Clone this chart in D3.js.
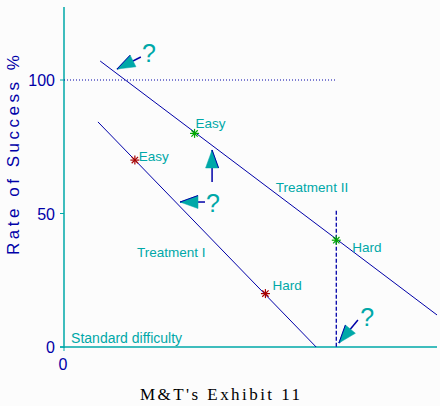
<!DOCTYPE html>
<html>
<head>
<meta charset="utf-8">
<script src="https://cdn.jsdelivr.net/npm/d3@7"></script>
<style>
  body { margin: 0; background: #fcfcfc; }
  svg { display: block; }
</style>
</head>
<body>
<div id="wrapper"></div>
<script>
// data (x is a unitless difficulty scale, y is rate of success %)
const yTicks = [0, 50, 100]
const xTicks = [0]
const treatmentI = [[9.1, 84.3], [67.6, 0]]
const treatmentII = [[9.7, 107.1], [100, 12]]
const pointsI = [{ label: "Easy", x: 19, y: 70 }, { label: "Hard", x: 54, y: 20 }]
const pointsII = [{ label: "Easy", x: 35, y: 80 }, { label: "Hard", x: 73, y: 40 }]
const hundredLine = [[0, 100], [73, 100]]
const hardDrop = [[73, 51], [73, 0]]
const notes = [
  { text: "Treatment II", x: 56.8, y: 58.1 },
  { text: "Treatment I", x: 19.6, y: 33.7 },
  { text: "Standard difficulty", x: 1.9, y: 1.5 },
]
// arrows: tail -> tip
const arrows = [
  { tail: [20.6, 108.6], tip: [14.2, 104.1] },
  { tail: [39.7, 61.8], tip: [39.7, 73.8] },
  { tail: [37.8, 54.3], tip: [31.1, 54.3] },
  { tail: [78.8, 10.1], tip: [73.7, 1.5] },
]
const questions = [[20.9, 106.7], [38.1, 50.6], [79.4, 7.9]]

// dimensions
const width = 440
const height = 406
const colors = {
  teal: "#00a8a8",
  blue: "#0000a8",
  red: "#a80000",
  green: "#00a800",
}

const svg = d3.select("#wrapper")
  .append("svg")
    .attr("width", width)
    .attr("height", height)

const xScale = d3.scaleLinear().domain([0, 100]).range([64, 437])
const yScale = d3.scaleLinear().domain([0, 100]).range([347, 80])

// axes
svg.append("line")
    .attr("x1", xScale(0)).attr("x2", xScale(0))
    .attr("y1", yScale(127.3)).attr("y2", yScale(0) + 1)
    .attr("stroke", colors.teal).attr("stroke-width", 1.5)
svg.append("line")
    .attr("x1", xScale(0) - 4).attr("x2", xScale(100))
    .attr("y1", yScale(0)).attr("y2", yScale(0))
    .attr("stroke", colors.teal).attr("stroke-width", 1.5)

const yAxis = svg.append("g")
yAxis.selectAll("line")
  .data(yTicks)
  .join("line")
    .attr("x1", xScale(0) - 4).attr("x2", xScale(0))
    .attr("y1", d => yScale(d)).attr("y2", d => yScale(d))
    .attr("stroke", colors.teal)
yAxis.selectAll("text")
  .data(yTicks)
  .join("text")
    .attr("x", xScale(0) - 9)
    .attr("y", d => yScale(d) + 6)
    .attr("text-anchor", "end")
    .attr("fill", colors.blue)
    .style("font", "16px 'Liberation Sans', sans-serif")
    .text(d => d)

const xAxis = svg.append("g")
xAxis.selectAll("line")
  .data(xTicks)
  .join("line")
    .attr("x1", d => xScale(d)).attr("x2", d => xScale(d))
    .attr("y1", yScale(0)).attr("y2", yScale(0) + 4)
    .attr("stroke", colors.teal)
xAxis.selectAll("text")
  .data(xTicks)
  .join("text")
    .attr("x", d => xScale(d) - 1)
    .attr("y", yScale(0) + 23)
    .attr("text-anchor", "middle")
    .attr("fill", colors.blue)
    .style("font", "16px 'Liberation Sans', sans-serif")
    .text(d => d)

svg.append("text")
    .attr("transform", "translate(19,155) rotate(-90)")
    .attr("text-anchor", "middle")
    .attr("fill", colors.blue)
    .attr("textLength", 200)
    .attr("lengthAdjust", "spacing")
    .style("font", "17px 'Liberation Sans', sans-serif")
    .text("Rate of Success %")

// reference lines
const line = d3.line().x(d => xScale(d[0])).y(d => yScale(d[1]))
svg.append("path")
    .attr("d", line(hundredLine))
    .attr("fill", "none")
    .attr("stroke", colors.blue)
    .attr("stroke-dasharray", "1 2")
svg.append("path")
    .attr("d", line(hardDrop))
    .attr("fill", "none")
    .attr("stroke", colors.blue)
    .attr("stroke-width", 1.3)
    .attr("stroke-dasharray", "4 2")

// treatment lines
;[treatmentI, treatmentII].forEach(seg => {
  svg.append("path")
      .attr("d", line(seg))
      .attr("fill", "none")
      .attr("stroke", colors.blue)
      .attr("stroke-width", 1)
})

// asterisk points
const drawStars = (pts, color) => {
  const g = svg.append("g")
  pts.forEach(p => {
    const cx = xScale(p.x)
    const cy = yScale(p.y)
    d3.range(4).forEach(i => {
      const a = i * Math.PI / 4
      g.append("line")
          .attr("x1", cx - 4.5 * Math.cos(a)).attr("x2", cx + 4.5 * Math.cos(a))
          .attr("y1", cy - 4.5 * Math.sin(a)).attr("y2", cy + 4.5 * Math.sin(a))
          .attr("stroke", color)
          .attr("stroke-width", 1.2)
    })
  })
}
drawStars(pointsI, colors.red)
drawStars(pointsII, colors.green)

// point labels
const labelFont = "13.5px 'Liberation Sans', sans-serif"
const labelOffsets = [[4, 1], [7, -4], [1, -5], [16, 12]]
pointsI.concat(pointsII).forEach((p, i) => {
  svg.append("text")
      .attr("x", xScale(p.x) + labelOffsets[i][0])
      .attr("y", yScale(p.y) + labelOffsets[i][1])
      .attr("fill", colors.teal)
      .style("font", labelFont)
      .text(p.label)
})

svg.append("g")
  .selectAll("text")
  .data(notes)
  .join("text")
    .attr("x", d => xScale(d.x))
    .attr("y", d => yScale(d.y))
    .attr("fill", colors.teal)
    .style("font", d => d.text === "Standard difficulty" ? "14px 'Liberation Sans', sans-serif" : labelFont)
    .text(d => d.text)

// arrows
arrows.forEach(a => {
  const tx = xScale(a.tail[0]), ty = yScale(a.tail[1])
  const px = xScale(a.tip[0]), py = yScale(a.tip[1])
  const len = Math.hypot(px - tx, py - ty)
  const ux = (px - tx) / len, uy = (py - ty) / len
  const headLen = 18, half = 6.5
  const bx = px - ux * headLen, by = py - uy * headLen
  svg.append("line")
      .attr("x1", tx).attr("y1", ty)
      .attr("x2", px).attr("y2", py)
      .attr("stroke", colors.blue)
      .attr("stroke-width", 1.5)
  svg.append("path")
      .attr("d", `M${px},${py}L${bx - uy * half},${by + ux * half}L${bx + uy * half},${by - ux * half}Z`)
      .attr("fill", colors.teal)
      .attr("stroke", colors.teal)
      .attr("stroke-width", 0.5)
  // dark edge on one side of the head, as in the original
  svg.append("line")
      .attr("x1", px).attr("y1", py)
      .attr("x2", bx - uy * half).attr("y2", by + ux * half)
      .attr("stroke", colors.blue)
      .attr("stroke-width", 1)
})

svg.append("g")
  .selectAll("text")
  .data(questions)
  .join("text")
    .attr("x", d => xScale(d[0]))
    .attr("y", d => yScale(d[1]))
    .attr("fill", colors.teal)
    .style("font", "25px 'Liberation Sans Narrow', 'Liberation Sans', sans-serif")
    .text("?")

// title
svg.append("text")
    .attr("x", 220)
    .attr("y", 400)
    .attr("text-anchor", "middle")
    .attr("fill", "#000")
    .attr("textLength", 160)
    .attr("lengthAdjust", "spacing")
    .style("font", "17px 'Liberation Serif', serif")
    .text("M&T's Exhibit 11")
</script>
</body>
</html>
